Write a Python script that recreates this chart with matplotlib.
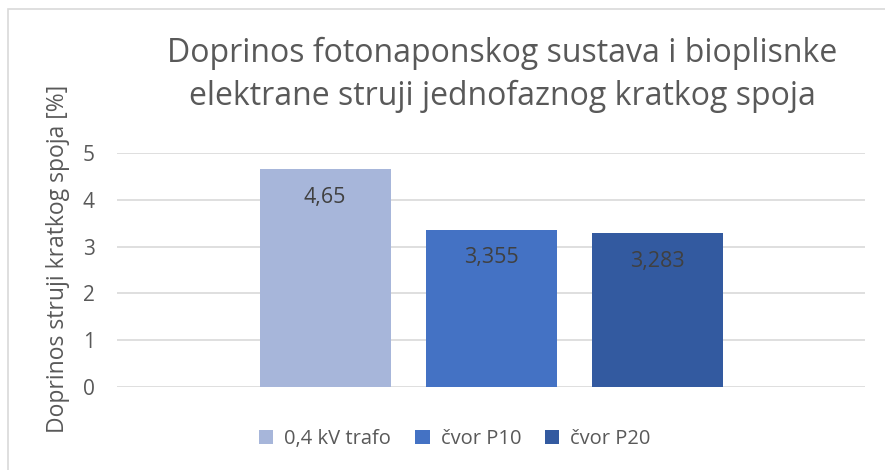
import matplotlib
matplotlib.use("Agg")
import matplotlib.pyplot as plt
from matplotlib.patches import Rectangle, Patch

plt.rcParams['font.family'] = ['Open Sans', 'DejaVu Sans']

title = "Doprinos fotonaponskog sustava i bioplisnke\nelektrane struji jednofaznog kratkog spoja"
ylabel = "Doprinos struji kratkog spoja [%]"
series = ["0,4 kV trafo", "čvor P10", "čvor P20"]
values = [4.65, 3.355, 3.283]
value_labels = ["4,65", "3,355", "3,283"]
colors = ["#A7B6DA", "#4472C4", "#335AA0"]
yticks = [0, 1, 2, 3, 4, 5]

W, H = 885, 470
fig = plt.figure(figsize=(W / 100, H / 100), dpi=100)
fig.patch.set_facecolor("white")

# chart border (top/left visible)
fig.patches.append(Rectangle((8 / W, -0.05), 1.2, 1 - 9 / H + 0.05, transform=fig.transFigure,
                             fill=False, edgecolor="#D9D9D9", linewidth=1.2))

left, right, top, bottom = 117, 865, 153, 387
ax = fig.add_axes([left / W, 1 - bottom / H, (right - left) / W, (bottom - top) / H])

half = (right - left) / 166 / 2
ax.set_xlim(-half, half)
ax.set_ylim(0, 5)
xs = [-1, 0, 1]
ax.bar(xs, values, width=131 / 166, color=colors, zorder=3)
for x, v, lab in zip(xs, values, value_labels):
    ax.annotate(lab, (x, v), xytext=(0, -28), textcoords="offset pixels",
                ha="center", va="center", fontsize=15.5, color="#404040", zorder=4)

ax.set_yticks(yticks)
ax.set_yticklabels([str(t) for t in yticks], fontsize=15, color="#595959")
ax.tick_params(axis="y", length=0, pad=16)
ax.set_xticks([])
ax.grid(axis="y", color="#D9D9D9", linewidth=1.2, zorder=0)
for s in ax.spines.values():
    s.set_visible(False)

fig.text(58 / W, 1 - 259 / H, ylabel, rotation=90, ha="center", va="center",
         fontsize=16.5, color="#595959")

fig.text(502 / W, 1 - 75 / H, title, ha="center", va="center", fontsize=23,
         color="#595959", linespacing=1.37)

handles = [Patch(facecolor=c, edgecolor="none") for c in colors]
fig.legend(handles, series, loc="center", bbox_to_anchor=(455 / W, 1 - 439 / H),
           ncol=3, frameon=False, fontsize=14.5, labelcolor="#595959",
           handlelength=0.7, handleheight=0.7, handletextpad=0.55, columnspacing=1.2)

fig.savefig("out.png", dpi=100)
